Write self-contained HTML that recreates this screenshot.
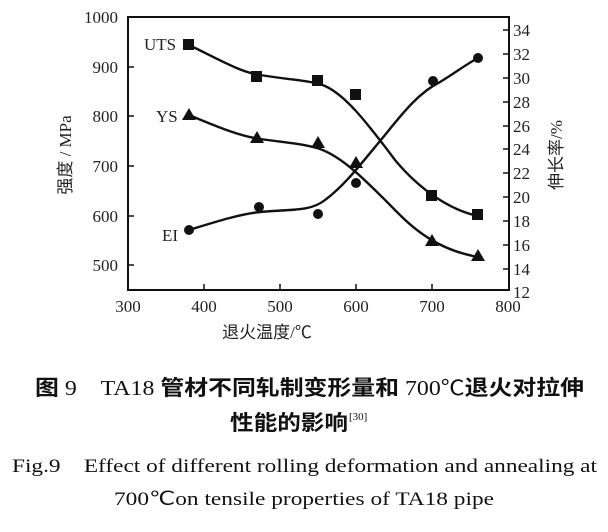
<!DOCTYPE html>
<html><head><meta charset="utf-8"><style>
body{margin:0;background:#fff;}
svg{display:block;}
.t{font-family:"Liberation Serif",serif;font-size:17px;fill:#222;}
.c{font-family:"Liberation Serif","Noto Sans CJK SC",sans-serif;}
</style></head><body>
<svg width="608" height="532" viewBox="0 0 608 532" xmlns="http://www.w3.org/2000/svg">
<rect x="128" y="17" width="381" height="273" fill="none" stroke="#111" stroke-width="2"/>
<g stroke="#111" stroke-width="1.5">
<line x1="204" y1="290" x2="204" y2="284"/><line x1="280" y1="290" x2="280" y2="284"/><line x1="356" y1="290" x2="356" y2="284"/><line x1="432" y1="290" x2="432" y2="284"/>
<line x1="128" y1="67" x2="134" y2="67"/><line x1="128" y1="116" x2="134" y2="116"/><line x1="128" y1="166" x2="134" y2="166"/><line x1="128" y1="216" x2="134" y2="216"/><line x1="128" y1="265" x2="134" y2="265"/>
<line x1="509" y1="30" x2="503" y2="30"/><line x1="509" y1="54" x2="503" y2="54"/><line x1="509" y1="78" x2="503" y2="78"/><line x1="509" y1="102" x2="503" y2="102"/><line x1="509" y1="126" x2="503" y2="126"/><line x1="509" y1="149" x2="503" y2="149"/><line x1="509" y1="173" x2="503" y2="173"/><line x1="509" y1="197" x2="503" y2="197"/><line x1="509" y1="221" x2="503" y2="221"/><line x1="509" y1="245" x2="503" y2="245"/><line x1="509" y1="269" x2="503" y2="269"/>
</g>
<g class="t" text-anchor="end">
<text x="118" y="23">1000</text><text x="118" y="73">900</text><text x="118" y="122">800</text><text x="118" y="172">700</text><text x="118" y="222">600</text><text x="118" y="271">500</text>
</g>
<g class="t" text-anchor="start">
<text x="513" y="36">34</text><text x="513" y="60">32</text><text x="513" y="84">30</text><text x="513" y="108">28</text><text x="513" y="132">26</text><text x="513" y="155">24</text><text x="513" y="179">22</text><text x="513" y="203">20</text><text x="513" y="227">18</text><text x="513" y="251">16</text><text x="513" y="275">14</text><text x="513" y="298">12</text>
</g>
<g class="t" text-anchor="middle">
<text x="128" y="312">300</text><text x="204" y="312">400</text><text x="280" y="312">500</text><text x="356" y="312">600</text><text x="432" y="312">700</text><text x="508" y="312">800</text>
</g>
<text class="t c" x="267" y="338" text-anchor="middle">退火温度/℃</text>
<text class="t c" transform="translate(71,155) rotate(-90)" text-anchor="middle">强度 / MPa</text>
<text class="t c" transform="translate(562,155) rotate(-90)" text-anchor="middle">伸长率/%</text>
<text class="t" x="144" y="50">UTS</text>
<text class="t" x="156" y="122">YS</text>
<text class="t" x="162" y="241">EI</text>
<g fill="none" stroke="#111" stroke-width="2.4">
<path d="M189,45 C220,60 240,72 260,75 C290,80 310,80 325,86 C345,95 365,120 395,160 C420,190 450,210 478,216"/>
<path d="M189,115 C220,128 240,136 260,139 C290,143 305,144 320,149 C345,158 370,185 400,215 C425,240 450,252 478,257"/>
<path d="M189,230 C215,222 240,214 260,212 C290,209 310,212 325,200 C345,185 360,165 385,135 C405,110 420,92 440,82 C455,73 465,65 478,58"/>
</g>
<g fill="#111">
<rect x="183" y="39" width="11" height="11"/><rect x="251" y="71" width="11" height="11"/><rect x="312" y="75" width="11" height="11"/><rect x="350" y="89" width="11" height="11"/><rect x="426" y="190" width="11" height="11"/><rect x="472" y="209" width="11" height="11"/>
<polygon points="189,108 196,120 182,120"/><polygon points="257,131 264,143 250,143"/><polygon points="318,136 325,148 311,148"/><polygon points="356,156 363,168 349,168"/><polygon points="432,234 439,246 425,246"/><polygon points="478,249 485,261 471,261"/>
<circle cx="189" cy="230" r="5"/><circle cx="259" cy="207" r="5"/><circle cx="318" cy="214" r="5"/><circle cx="356" cy="183" r="5"/><circle cx="433" cy="81" r="5"/><circle cx="478" cy="58" r="5"/>
</g>
<g class="c" fill="#111">
<text x="35" y="395" font-size="21" textLength="549" lengthAdjust="spacingAndGlyphs"><tspan font-weight="bold">图</tspan> 9　TA18 <tspan font-weight="bold">管材不同轧制变形量和</tspan> 700℃<tspan font-weight="bold">退火对拉伸</tspan></text>
<text x="230" y="430" font-size="21" font-weight="bold" textLength="118" lengthAdjust="spacingAndGlyphs">性能的影响</text>
<text x="349" y="420" font-size="11" font-family="Liberation Serif,serif">[30]</text>
<text x="12" y="472" font-size="19" font-family="Liberation Serif,serif" textLength="585" lengthAdjust="spacingAndGlyphs">Fig.9　Effect of different rolling deformation and annealing at</text>
<text x="114" y="505" font-size="19" font-family="Liberation Serif,serif" textLength="380" lengthAdjust="spacingAndGlyphs">700℃on tensile properties of TA18 pipe</text>
</g>
</svg>
</body></html>
